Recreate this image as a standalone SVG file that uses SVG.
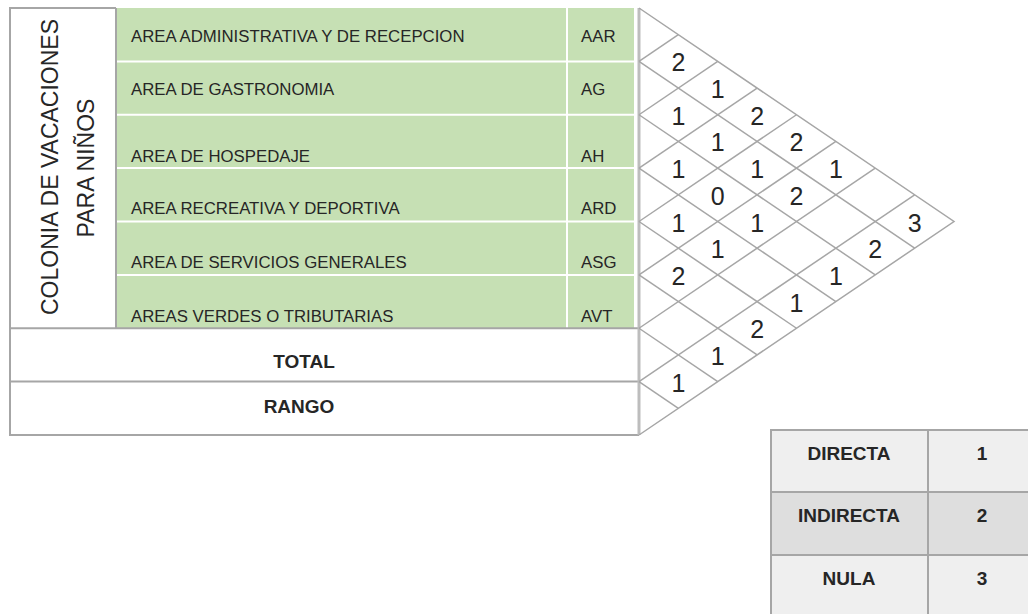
<svg xmlns="http://www.w3.org/2000/svg" width="1028" height="614" viewBox="0 0 1028 614">
<style>
.t{font-family:"Liberation Sans",Arial,sans-serif;fill:#262626}
.lbl{font-size:16.8px}
.vert{font-size:23px;text-anchor:middle}
.b{font-weight:bold;font-size:19px;text-anchor:middle}
.num{font-size:25px;text-anchor:middle}
.grid{stroke:#a6a6a6;stroke-width:1.5;fill:none}
.border{stroke:#a6a6a6;stroke-width:2;fill:none}
.sep{stroke:#ffffff;stroke-width:2}
.green{fill:#C6E0B4}
</style>
<rect width="1028" height="614" fill="#ffffff"/>

<g id="colonia-header">
  <rect x="10" y="8" width="106" height="320" fill="#ffffff"/>
  <text class="t vert" transform="translate(58,167) rotate(-90)">COLONIA DE VACACIONES</text>
  <text class="t vert" transform="translate(94,168) rotate(-90)">PARA NIÑOS</text>
</g>

<g id="row-aar">
  <rect class="green" x="117" y="8" width="517" height="53.4"/>
  <text class="t lbl" x="131" y="42">AREA ADMINISTRATIVA Y DE RECEPCION</text>
  <text class="t lbl" x="581" y="42">AAR</text>
</g>
<g id="row-ag">
  <rect class="green" x="117" y="61.4" width="517" height="53.4"/>
  <text class="t lbl" x="131" y="95">AREA DE GASTRONOMIA</text>
  <text class="t lbl" x="581" y="95">AG</text>
</g>
<g id="row-ah">
  <rect class="green" x="117" y="114.75" width="517" height="53.4"/>
  <text class="t lbl" x="131" y="162">AREA DE HOSPEDAJE</text>
  <text class="t lbl" x="581" y="162">AH</text>
</g>
<g id="row-ard">
  <rect class="green" x="117" y="168.1" width="517" height="53.4"/>
  <text class="t lbl" x="131" y="214">AREA RECREATIVA Y DEPORTIVA</text>
  <text class="t lbl" x="581" y="214">ARD</text>
</g>
<g id="row-asg">
  <rect class="green" x="117" y="221.5" width="517" height="53.4"/>
  <text class="t lbl" x="131" y="268">AREA DE SERVICIOS GENERALES</text>
  <text class="t lbl" x="581" y="268">ASG</text>
</g>
<g id="row-avt">
  <rect class="green" x="117" y="274.9" width="517" height="53.4"/>
  <text class="t lbl" x="131" y="322">AREAS VERDES O TRIBUTARIAS</text>
  <text class="t lbl" x="581" y="322">AVT</text>
</g>
<g id="green-separators">
  <line class="sep" x1="117" y1="61.4" x2="634" y2="61.4"/>
  <line class="sep" x1="117" y1="114.75" x2="634" y2="114.75"/>
  <line class="sep" x1="117" y1="168.1" x2="634" y2="168.1"/>
  <line class="sep" x1="117" y1="221.5" x2="634" y2="221.5"/>
  <line class="sep" x1="117" y1="274.9" x2="634" y2="274.9"/>
  <line class="sep" x1="567" y1="8" x2="567" y2="328"/>
</g>

<g id="row-total">
  <text class="t b" x="304" y="368">TOTAL</text>
</g>
<g id="row-rango">
  <text class="t b" x="299" y="413">RANGO</text>
</g>

<g id="table-borders">
  <line class="border" x1="10" y1="8" x2="116" y2="8"/>
  <line class="border" x1="10" y1="7" x2="10" y2="436"/>
  <line class="border" x1="116" y1="8" x2="116" y2="328"/>
  <line class="border" x1="10" y1="328.25" x2="639" y2="328.25"/>
  <line class="border" x1="10" y1="381.6" x2="639" y2="381.6"/>
  <line class="border" x1="10" y1="435" x2="639" y2="435"/>
  <line x1="639" y1="8" x2="639" y2="435" stroke="#bdbdbd" stroke-width="3"/>
</g>

<g id="matrix-grid" class="grid">
  <path d="M639,8 L954,221.5 L639,435"/>
  <line x1="639" y1="61.375" x2="914.625" y2="248.1875"/>
  <line x1="639" y1="114.75" x2="875.25" y2="274.875"/>
  <line x1="639" y1="168.125" x2="835.875" y2="301.5625"/>
  <line x1="639" y1="221.5" x2="796.5" y2="328.25"/>
  <line x1="639" y1="274.875" x2="757.125" y2="354.9375"/>
  <line x1="639" y1="328.25" x2="717.75" y2="381.625"/>
  <line x1="639" y1="381.625" x2="678.375" y2="408.3125"/>
  <line x1="639" y1="61.375" x2="678.375" y2="34.6875"/>
  <line x1="639" y1="114.75" x2="717.75" y2="61.375"/>
  <line x1="639" y1="168.125" x2="757.125" y2="88.0625"/>
  <line x1="639" y1="221.5" x2="796.5" y2="114.75"/>
  <line x1="639" y1="274.875" x2="835.875" y2="141.4375"/>
  <line x1="639" y1="328.25" x2="875.25" y2="168.125"/>
  <line x1="639" y1="381.625" x2="914.625" y2="194.8125"/>
</g>

<g id="matrix-values">
  <text class="t num" x="678.4" y="71.4">2</text>
  <text class="t num" x="717.75" y="98.1">1</text>
  <text class="t num" x="678.4" y="124.75">1</text>
  <text class="t num" x="757.1" y="124.75">2</text>
  <text class="t num" x="717.75" y="151.4">1</text>
  <text class="t num" x="796.5" y="151.4">2</text>
  <text class="t num" x="678.4" y="178.1">1</text>
  <text class="t num" x="757.1" y="178.1">1</text>
  <text class="t num" x="835.9" y="178.1">1</text>
  <text class="t num" x="717.75" y="204.8">0</text>
  <text class="t num" x="796.5" y="204.8">2</text>
  <text class="t num" x="678.4" y="231.5">1</text>
  <text class="t num" x="757.1" y="231.5">1</text>
  <text class="t num" x="914.6" y="231.5">3</text>
  <text class="t num" x="717.75" y="258.2">1</text>
  <text class="t num" x="875.25" y="258.2">2</text>
  <text class="t num" x="678.4" y="284.9">2</text>
  <text class="t num" x="835.9" y="284.9">1</text>
  <text class="t num" x="796.5" y="311.6">1</text>
  <text class="t num" x="757.1" y="338.25">2</text>
  <text class="t num" x="717.75" y="364.9">1</text>
  <text class="t num" x="678.4" y="391.6">1</text>
</g>

<g id="legend">
  <rect x="771" y="430" width="270" height="62" fill="#efefef"/>
  <rect x="771" y="492" width="270" height="63" fill="#dedede"/>
  <rect x="771" y="555" width="270" height="62" fill="#efefef"/>
  <g class="border" stroke="#b4b4b4">
    <line x1="771" y1="430" x2="1030" y2="430"/>
    <line x1="771" y1="492" x2="1030" y2="492"/>
    <line x1="771" y1="555" x2="1030" y2="555"/>
    <line x1="771" y1="429" x2="771" y2="614"/>
    <line x1="928" y1="430" x2="928" y2="614"/>
  </g>
  <text class="t b" x="849" y="460">DIRECTA</text>
  <text class="t b" x="982" y="460">1</text>
  <text class="t b" x="849" y="522">INDIRECTA</text>
  <text class="t b" x="982" y="522">2</text>
  <text class="t b" x="849" y="585">NULA</text>
  <text class="t b" x="982" y="585">3</text>
</g>
</svg>
